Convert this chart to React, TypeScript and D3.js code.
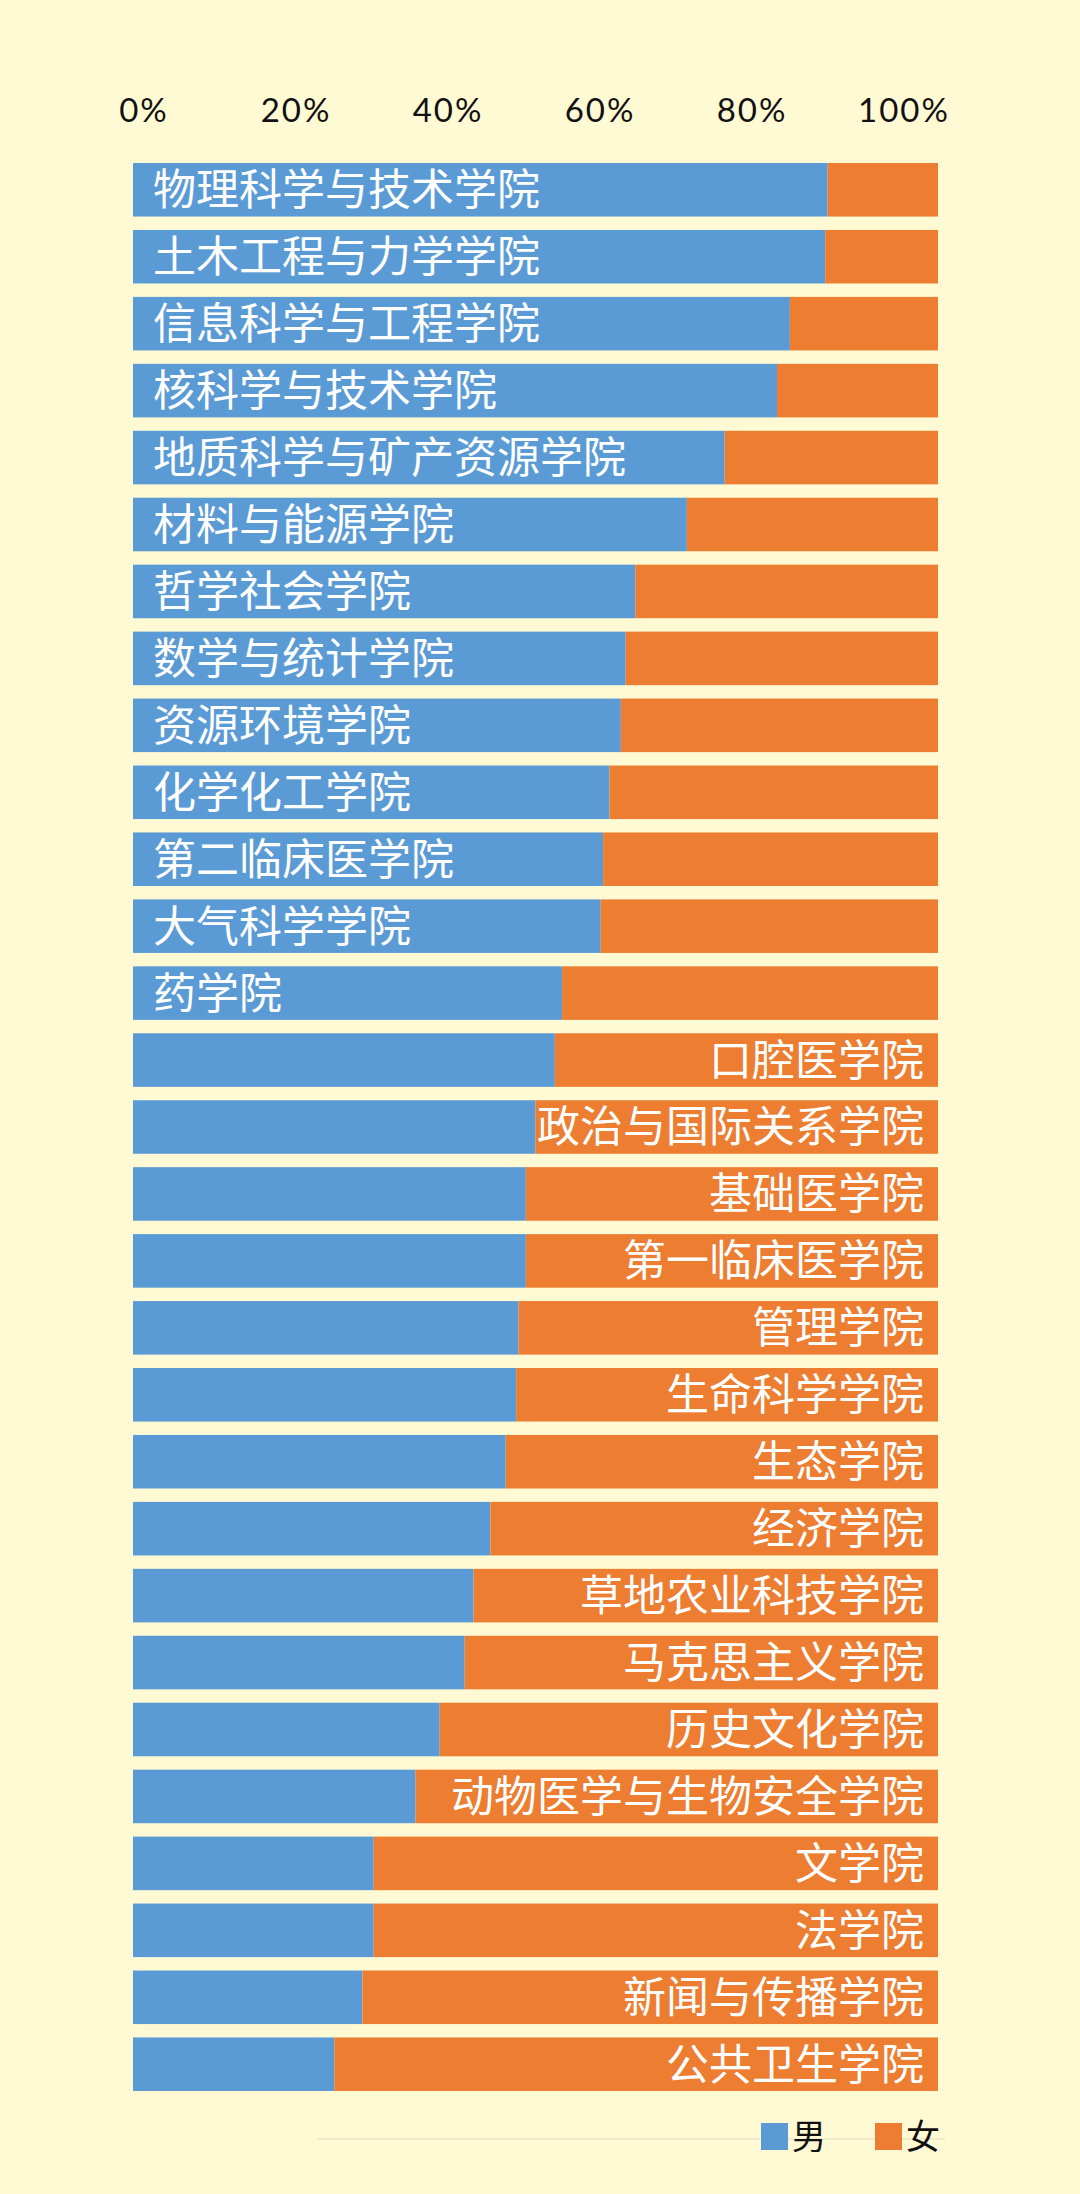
// Gender ratio by college: 100% stacked horizontal bars, labels drawn inside the bars.
import * as d3 from "d3";

const W = 1080;
const H = 2194;

const colleges = [
  "物理科学与技术学院",
  "土木工程与力学学院",
  "信息科学与工程学院",
  "核科学与技术学院",
  "地质科学与矿产资源学院",
  "材料与能源学院",
  "哲学社会学院",
  "数学与统计学院",
  "资源环境学院",
  "化学化工学院",
  "第二临床医学院",
  "大气科学学院",
  "药学院",
  "口腔医学院",
  "政治与国际关系学院",
  "基础医学院",
  "第一临床医学院",
  "管理学院",
  "生命科学学院",
  "生态学院",
  "经济学院",
  "草地农业科技学院",
  "马克思主义学院",
  "历史文化学院",
  "动物医学与生物安全学院",
  "文学院",
  "法学院",
  "新闻与传播学院",
  "公共卫生学院",
];

// share of male students, percent (female = 100 - male)
const male = [
  86.3, 86.0, 81.6, 80.0, 73.5, 68.8, 62.4, 61.2, 60.6, 59.2, 58.4, 58.1, 53.3,
  52.4, 50.0, 48.8, 48.8, 47.9, 47.6, 46.3, 44.4, 42.3, 41.2, 38.1, 35.1, 29.9,
  29.9, 28.5, 25.0,
];

const tickValues = [0, 20, 40, 60, 80, 100];
const seriesNames = ["男", "女"];

const BG = "#FFFAD3";
const BLUE = "#5B9BD5";
const ORANGE = "#ED7D31";
const CJK = '"Noto Sans CJK SC", "Noto Sans", sans-serif';

export default function App() {
  const x = d3.scaleLinear().domain([0, 100]).range([133, 938]);
  // tick labels in the source sit on their own, slightly narrower grid
  const xTick = d3.scaleLinear().domain([0, 100]).range([144, 904]);
  const y = d3
    .scaleBand<string>()
    .domain(colleges)
    .range([163, 2091])
    .paddingInner(0.2)
    .paddingOuter(0);
  const color = d3.scaleOrdinal<string, string>().domain(seriesNames).range([BLUE, ORANGE]);

  const rows = colleges.map((name, i) => ({ name, m: male[i], f: 100 - male[i] }));

  return (
    <svg
      width={W}
      height={H}
      viewBox={`0 0 ${W} ${H}`}
      style={{ position: "absolute", left: 0, top: 0, display: "block", background: BG }}
    >
      <rect width={W} height={H} fill={BG} />

      {/* top axis labels */}
      {tickValues.map((t) => (
        <text
          key={t}
          x={xTick(t)}
          y={122}
          textAnchor="middle"
          fontSize={33}
          letterSpacing={2}
          fontFamily='Lato, "Open Sans", sans-serif'
          fill="#111"
        >
          {t}%
        </text>
      ))}

      {rows.map((r) => {
        const y0 = y(r.name)!;
        const bh = y.bandwidth();
        const leftLabel = r.m >= 53;
        return (
          <g key={r.name}>
            <rect x={x(0)} y={y0} width={x(r.m) - x(0)} height={bh} fill={color("男")} />
            <rect x={x(r.m)} y={y0} width={x(100) - x(r.m)} height={bh} fill={color("女")} />
            <text
              x={leftLabel ? x(0) + 20 : x(100) - 14}
              y={y0 + bh / 2}
              dy="0.36em"
              textAnchor={leftLabel ? "start" : "end"}
              fontSize={43}
              fontFamily={CJK}
              fill="#fff"
            >
              {r.name}
            </text>
          </g>
        );
      })}

      {/* faint baseline behind the legend */}
      <line x1={317} x2={945} y1={2139} y2={2139} stroke="#EFEBCB" strokeWidth={2} />

      {/* legend */}
      {seriesNames.map((s, i) => {
        const lx = i === 0 ? 761 : 875;
        return (
          <g key={s}>
            <rect x={lx} y={2123} width={27} height={27} fill={color(s)} />
            <text x={lx + 31} y={2137} dy="0.36em" fontSize={34} fontFamily={CJK} fill="#111">
              {s}
            </text>
          </g>
        );
      })}
    </svg>
  );
}
